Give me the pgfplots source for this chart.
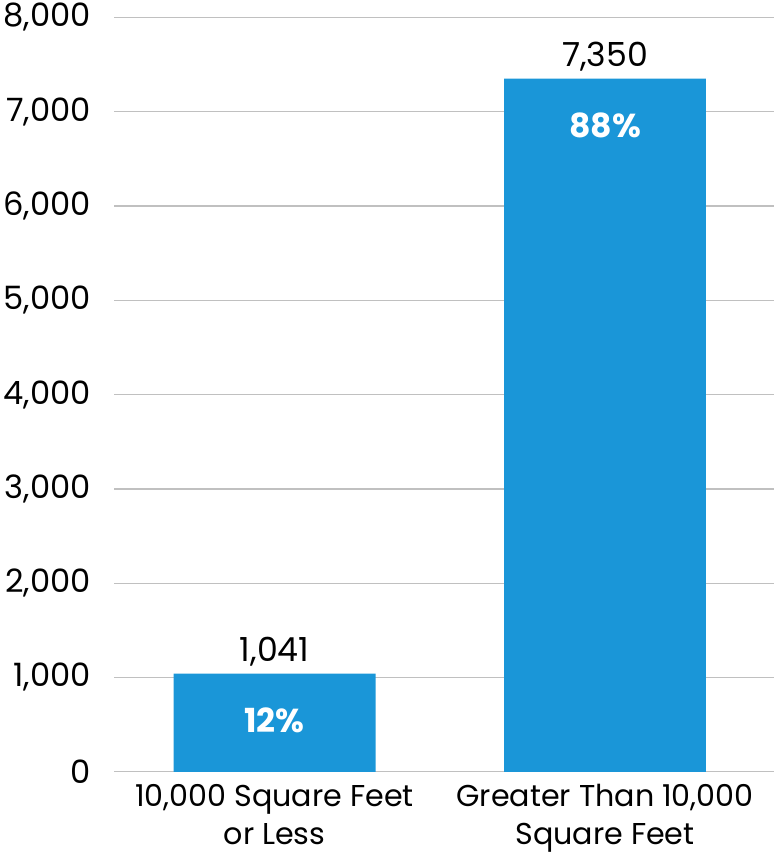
\documentclass[border=0pt]{standalone}
\usepackage{pgfplots}
\pgfplotsset{compat=1.18}
\usepackage{fontspec}
\setmainfont{Poppins}
\definecolor{barblue}{HTML}{1A96D8}
\definecolor{gridgray}{HTML}{C0C0C0}
\begin{document}
\begin{tikzpicture}
\begin{axis}[
  scale only axis,
  width=657pt, height=751pt,
  xmin=-0.485, xmax=1.512,
  ymin=0, ymax=8000,
  ytick={0,1000,...,8000},
  xtick={0,1},
  xticklabels={{10,000 Square Feet\\or Less},{Greater Than 10,000\\Square Feet}},
  xticklabel style={align=center, font=\fontsize{30}{38}\selectfont, yshift=-9pt},
  yticklabel style={font=\fontsize{32}{34}\selectfont, xshift=-20pt},
  /pgf/number format/assume math mode=true,
  /pgf/number format/1000 sep={,},
  scaled y ticks=false,
  axis line style={draw=none},
  major tick length=0pt,
  ymajorgrids,
  grid style={gridgray, line width=1.3pt},
  ybar, bar width=201pt, bar shift=0pt,
  clip=false,
]
\addplot[fill=barblue, draw=none,
  nodes near coords,
  nodes near coords style={font=\fontsize{33}{36}\selectfont, black, /pgf/number format/1000 sep={,}, /pgf/number format/assume math mode=true, yshift=4pt},
] coordinates {(0,1041) (1,7350)};
\addplot[fill=none, draw=none, forget plot,
  point meta=explicit symbolic,
  nodes near coords,
  nodes near coords align={below},
  nodes near coords style={font=\fontsize{33}{36}\selectfont\bfseries, white, yshift=-30pt},
] coordinates {(0,1041) [12\%] (1,7350) [88\%]};
\end{axis}
\end{tikzpicture}
\end{document}
